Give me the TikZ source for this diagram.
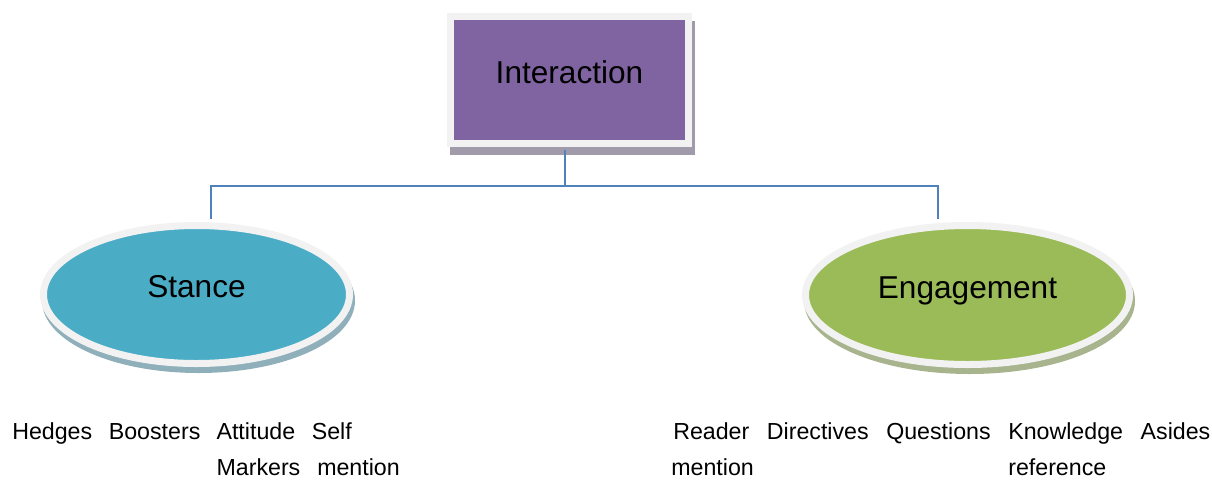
\documentclass[tikz,border=0pt]{standalone}
\usepackage{fontspec}
\setmainfont{Liberation Sans}
\usetikzlibrary{shapes.geometric}

\definecolor{interfill}{HTML}{8064A2}
\definecolor{stancefill}{HTML}{4BACC6}
\definecolor{engagefill}{HTML}{9BBB59}
\definecolor{framegray}{HTML}{F2F2F2}
\definecolor{intershadow}{HTML}{A09AAA}
\definecolor{stanceshadow}{HTML}{8FAFBA}
\definecolor{engageshadow}{HTML}{A8B48E}
\definecolor{linkblue}{HTML}{4F81BD}

\tikzset{
  framed/.style={draw=framegray, line width=5.25pt, inner sep=0pt,
    text height=17pt, text depth=12pt, font=\fontsize{23.7}{28}\selectfont},
  topbox/.style={framed, rectangle, fill=interfill, minimum width=178.5pt,
    minimum height=95.25pt,
    preaction={fill=intershadow, draw=intershadow, line width=5.25pt,
      transform canvas={xshift=2.25pt, yshift=-6pt}}},
  blob/.style 2 args={framed, ellipse, fill=#1,
    preaction={fill=#2, draw=#2, line width=5.25pt,
      transform canvas={xshift=1.5pt, yshift=-4.5pt}}},
  link/.style={draw=linkblue, line width=1.2pt},
  item/.style={anchor=base west, inner sep=0pt, font=\fontsize{17.4}{20}\selectfont}
}

\begin{document}
\begin{tikzpicture}[x=0.75pt, y=-0.75pt]
  \useasboundingbox (0,0) rectangle (1212,479);

  %Define nodes
  \node[topbox] (inter) at (569.5,80) {Interaction};
  \node[blob={stancefill}{stanceshadow}, minimum width=229.5pt, minimum height=103.5pt]
    (stance) at (196.5,294.5) {Stance};
  \node[blob={engagefill}{engageshadow}, minimum width=243pt, minimum height=104.25pt]
    (engage) at (967.5,295) {Engagement};

  % Connect the nodes
  \coordinate (fork) at (565,186);
  \coordinate (sleft) at (211,186);
  \coordinate (eright) at (938,186);
  \draw[link, shorten <=2.6pt] (fork |- inter.south) -- (fork);
  \draw[link, shorten <=2.6pt, shorten >=2.6pt]
    (sleft |- stance.north) -- (sleft) -- (eright) -- (eright |- engage.north);

  % Markers under Stance
  \node[item] (hedges) at (12,439) {Hedges};
  \node[item] (boost) at (108.6,439) {Boosters};
  \node[item] (attit) at (216.3,439) {Attitude};
  \node[item] (self) at (311.6,439) {Self};
  \node[item] (marks) at (216.3,475) {Markers};
  \node[item] (smention) at (317,475) {mention};

  % Markers under Engagement
  \node[item] (reader) at (673,439) {Reader};
  \node[item] (direct) at (766.6,439) {Directives};
  \node[item] (quest) at (886,439) {Questions};
  \node[item] (know) at (1008,439) {Knowledge};
  \node[item] (asides) at (1140.4,439) {Asides};
  \node[item] (rmention) at (671,475) {mention};
  \node[item] (refer) at (1008,475) {reference};
\end{tikzpicture}
\end{document}
